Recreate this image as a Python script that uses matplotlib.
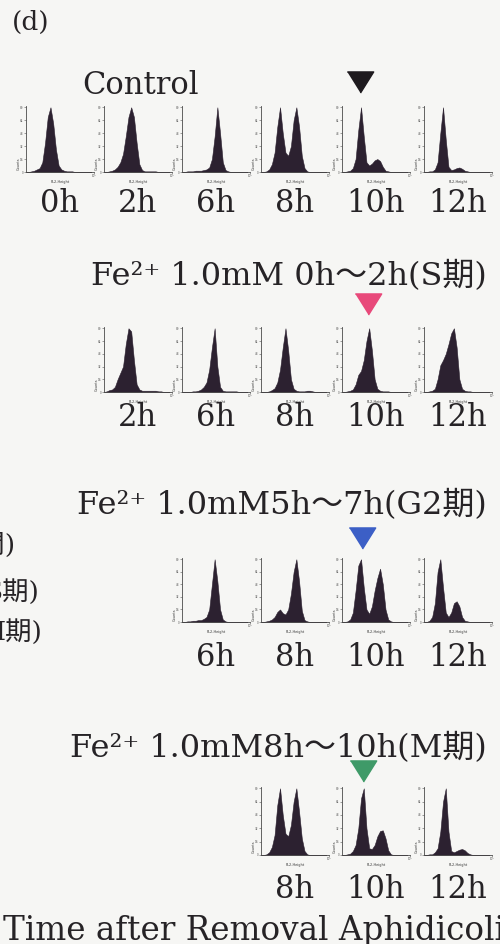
import matplotlib
matplotlib.use("Agg")
import matplotlib.pyplot as plt
import numpy as np

# FL2 channel position of each histogram point (fraction of axis)
channel = np.arange(25) * 0.04

# control
control_hours = ["0h", "2h", "6h", "8h", "10h", "12h"]
control_profiles = [
    [0, 0, .01, .02, .04, .06, .15, .45, .85, 1.0, .75, .35, .1, .04, .02, .01, .01, .01, 0, 0, 0, 0, 0, 0, 0],
    [0, 0, .01, .02, .04, .08, .15, .28, .55, .85, 1.0, .85, .45, .12, .03, .01, .01, .01, .01, .01, 0, 0, 0, 0, 0],
    [0, 0, .01, .01, .01, .02, .02, .02, .03, .04, .07, .2, .55, 1.0, .6, .15, .03, .01, 0, 0, 0, 0, 0, 0, 0],
    [0, 0, .01, .04, .12, .3, .7, 1.0, .6, .3, .25, .4, .8, 1.0, .7, .25, .06, .01, 0, 0, 0, 0, 0, 0, 0],
    [0, 0, .01, .02, .06, .2, .65, 1.0, .55, .15, .1, .13, .18, .2, .17, .08, .02, .01, 0, 0, 0, 0, 0, 0, 0],
    [0, 0, .01, .01, .04, .15, .6, 1.0, .5, .08, .03, .04, .06, .07, .05, .02, .01, 0, 0, 0, 0, 0, 0, 0, 0],
]

# Fe2+ during S phase
s_hours = ["2h", "6h", "8h", "10h", "12h"]
s_profiles = [
    [0, .01, .03, .04, .08, .2, .3, .4, .75, 1.0, .95, .5, .12, .04, .02, .02, .02, .02, .02, .02, .01, .01, 0, 0, 0],
    [0, 0, 0, 0, .01, .01, .02, .04, .08, .15, .35, .7, 1.0, .4, .08, .02, .01, .01, .01, .01, .01, 0, 0, 0, 0],
    [0, 0, 0, .01, .03, .06, .15, .35, .7, 1.0, .65, .2, .05, .02, .01, .01, .01, .02, .02, .01, 0, 0, 0, 0, 0],
    [0, 0, .01, .02, .04, .12, .27, .33, .5, .8, 1.0, .65, .2, .05, .02, .01, .01, .01, 0, 0, 0, 0, 0, 0, 0],
    [0, 0, .01, .02, .05, .2, .42, .5, .6, .75, .92, 1.0, .7, .2, .05, .02, .01, .01, 0, 0, 0, 0, 0, 0, 0],
]

# Fe2+ during G2 phase
g2_hours = ["6h", "8h", "10h", "12h"]
g2_profiles = [
    [0, 0, .01, .01, .02, .02, .03, .03, .05, .08, .2, .6, 1.0, .65, .2, .04, .01, 0, 0, 0, 0, 0, 0, 0, 0],
    [0, 0, .01, .02, .04, .08, .16, .2, .14, .12, .2, .45, .8, 1.0, .65, .18, .03, .01, 0, 0, 0, 0, 0, 0, 0],
    [0, 0, .01, .04, .15, .5, .9, 1.0, .55, .2, .13, .25, .5, .7, .85, .6, .2, .04, .01, 0, 0, 0, 0, 0, 0],
    [0, 0, .02, .08, .3, .8, 1.0, .55, .15, .08, .15, .3, .33, .25, .08, .02, .01, 0, 0, 0, 0, 0, 0, 0, 0],
]

# Fe2+ during M phase
m_hours = ["8h", "10h", "12h"]
m_profiles = [
    [0, 0, .01, .04, .12, .3, .75, 1.0, .6, .32, .28, .45, .8, 1.0, .65, .25, .06, .01, 0, 0, 0, 0, 0, 0, 0],
    [0, 0, .01, .02, .06, .15, .4, .85, 1.0, .4, .1, .09, .15, .28, .36, .37, .25, .07, .01, 0, 0, 0, 0, 0, 0],
    [0, 0, .01, .01, .04, .1, .35, .8, 1.0, .35, .06, .04, .06, .08, .09, .07, .03, .01, 0, 0, 0, 0, 0, 0, 0],
]

titles = ["Control", "Fe²⁺ 1.0mM 0h～2h(S期)", "Fe²⁺ 1.0mM5h～7h(G2期)", "Fe²⁺ 1.0mM8h～10h(M期)"]
marker_colors = ["#1e1a1e", "#e8497a", "#3c5fc6", "#3f9a68"]

W, H = 500, 944
SERIF = ["DejaVu Serif", "Noto Sans CJK JP"]
INK = "#262326"
FILL = "#2c2130"

# left edge of each time column, px
col_left = {"0h": 26, "2h": 104, "6h": 182, "8h": 261, "10h": 342, "12h": 424}
# (spine top, baseline, label y, title y, marker y in axes fraction)
rows = [
    (control_hours, control_profiles, 106, 172, 204, 85, 1.36),
    (s_hours, s_profiles, 327, 392, 418, 276, 1.35),
    (g2_hours, g2_profiles, 558, 622, 657, 505, 1.31),
    (m_hours, m_profiles, 787, 855, 890, 748, 1.24),
]
marker_x = [0.26, 0.38, 0.29, 0.31]

fig = plt.figure(figsize=(W / 100, H / 100), dpi=100, facecolor="#f6f6f4")


def fx(x):
    return x / W


def fy(y):
    return 1 - y / H


tri = [(-1, 0.8), (1, 0.8), (0, -0.8)]

for r, (hours, profiles, top, base, lab_y, tit_y, mk_y) in enumerate(rows):
    for hour, prof in zip(hours, profiles):
        left = col_left[hour]
        ax = fig.add_axes([fx(left), fy(base), 68 / W, (base - top) / H])
        ax.set_facecolor("none")
        ax.fill_between(channel, prof, color=FILL, lw=0.4, edgecolor=FILL)
        ax.set_xlim(0, 1)
        ax.set_ylim(0, 1.02)
        for s in ["top", "right"]:
            ax.spines[s].set_visible(False)
        for s in ["left", "bottom"]:
            ax.spines[s].set_linewidth(0.6)
            ax.spines[s].set_color("#4a4a4a")
        ax.set_yticks([0, 0.2, 0.4, 0.6, 0.8, 1.0])
        ax.set_yticklabels(["0", "16", "32", "48", "64", "80"], fontsize=2)
        ax.set_xticks([1.0])
        ax.set_xticklabels(["10⁴"], fontsize=2)
        ax.tick_params(length=1.2, width=0.4, pad=0.5, colors="#555555")
        ax.set_xlabel("FL2-Height", fontsize=2.5, labelpad=1, color="#333333")
        ax.set_ylabel("Counts", fontsize=2.5, labelpad=0.5, color="#333333")
        ax.yaxis.set_label_coords(-0.07, 0.12)
        fig.text(fx(left + 34), fy(lab_y), hour, ha="center", va="center",
                 fontsize=22, family=SERIF, color=INK)
        if hour == "10h":
            ax.plot([marker_x[r]], [mk_y], marker=tri, ms=19, color=marker_colors[r],
                    transform=ax.transAxes, clip_on=False)

    if r == 0:
        fig.text(fx(140), fy(tit_y), titles[r], ha="center", va="center",
                 fontsize=22, family=SERIF, color=INK)
    else:
        fig.text(fx(487), fy(tit_y), titles[r], ha="right", va="center",
                 fontsize=23, family=SERIF, color=INK)

fig.text(fx(12), fy(22), "(d)", ha="left", va="center", fontsize=19, family=SERIF, color=INK)
# the axis title runs off the right and bottom edges in the source panel
fig.text(fx(3), fy(940), "Time after Removal Aphidicolin", ha="left", va="baseline",
         fontsize=23.5, family=SERIF, color=INK)

# legend fragments cut off at the left edge
fig.text(fx(15), fy(545), "時間)", ha="right", va="center", fontsize=19, family=SERIF, color=INK)
fig.text(fx(40), fy(592), "S期)", ha="right", va="center", fontsize=19, family=SERIF, color=INK)
fig.text(fx(43), fy(632), "M期)", ha="right", va="center", fontsize=19, family=SERIF, color=INK)

fig.savefig("out.png", dpi=100, facecolor=fig.get_facecolor())
